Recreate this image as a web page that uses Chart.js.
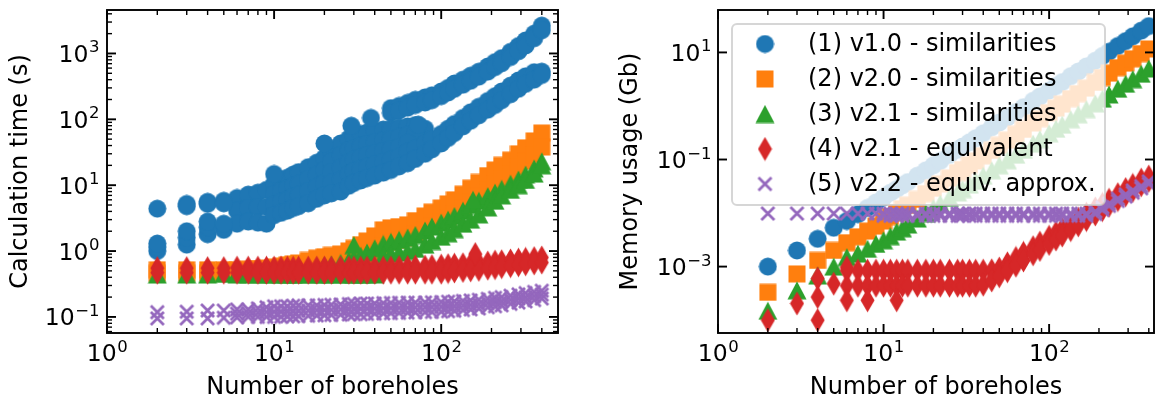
<!DOCTYPE html>
<html>
<head>
<meta charset="utf-8">
<title>Calculation time and memory usage</title>
<script src="https://cdn.jsdelivr.net/npm/chart.js@4.4.1/dist/chart.umd.min.js"></script>
<style>
    html, body { margin: 0; padding: 0; background: #fff; }
    #figure { position: relative; width: 1164px; height: 404px; overflow: hidden; }
    #time_plot { position: absolute; left: 0; top: 0; }
    #memory_plot { position: absolute; left: 580px; top: 0; }
</style>
</head>
<body>
<div id="figure">
    <canvas id="time_plot" width="580" height="404"></canvas>
    <canvas id="memory_plot" width="584" height="404"></canvas>
</div>
<script>
'use strict';

const _ = null;

const nBoreholes = [
    2, 3, 4, 5, 6, 7, 8, 9, 10, 11, 12,
    13, 14, 16, 18, 20, 22, 25, 28, 30, 33, 36,
    40, 45, 50, 56, 63, 70, 80, 88, 100, 110, 120,
    135, 150, 168, 190, 210, 230, 260, 290, 320, 360, 400
];

// ---- Calculation time (s) ----
// (1) v1.0 - similarities : several rows, the cloud spans a wide range
const timeV10Top = [
    4.4, 5.2, 5.6, 5.8, 6.4, 7.2, 7.7, 8.5, 10.5, 12, 13,
    14.5, 15.8, 18.8, 22, 26, 33, 43, 51, 55, 60, 63,
    67, 70, 148, 160, 178, 198, 215, 232, 265, 300, 350,
    400, 460, 530, 635, 740, 850, 1060, 1300, 1580, 2000, 2650
];
const timeV10Branch = [
    _, _, _, _, _, _, _, _, _, _, _,
    _, _, _, _, _, _, _, _, _, _, _,
    _, _, 125, 135, 150, 165, 180, 195, 225, 255, 290,
    335, 385, 445, 530, 620, 710, 880, 1080, 1320, 1700, 2250
];
const timeV10CloudA = [
    _, _, _, _, _, _, _, _, 7.3, 8.2, 8.9,
    9.8, 10.6, 12.3, 14.4, 16.8, 22.8, 28.3, 33.8, 36.6, 39.9, 42.2,
    45.2, 48, 72, 75, 78, 82, 72, _, _, _, _,
    _, _, _, _, _, _, _, _, _, _, _
];
const timeV10CloudB = [
    _, _, _, _, 4.1, 4.5, 4.6, 4.7, 5.05, 5.6, 6.0,
    6.7, 7.1, 8.1, 9.5, 10.9, 15.8, 18.5, 22.4, 24.4, 26.6, 28.4,
    30.6, 33, 50, 54, 58, 62, _, _, _, _, _,
    _, _, _, _, _, _, _, _, _, _, _
];
const timeV10CloudC = [
    _, _, _, _, _, _, _, _, _, _, _,
    _, _, _, _, _, 10.9, 12.2, 14.8, 16.2, 17.7, 19,
    20.7, 22.6, 35, 38, 44, _, _, _, _, _, _,
    _, _, _, _, _, _, _, _, _, _, _
];
const timeV10LowHi = [
    _, _, _, _, _, _, _, _, _, _, _,
    _, _, _, _, _, _, _, _, _, _, _,
    _, _, 24.5, 27, 32, 36, 43, 50, 60, 72, 85,
    105, 128, 155, 190, 225, 265, 325, 390, 450, 520, 530
];
const timeV10Low = [
    1.0, 1.25, 1.8, 2.1, 2.6, 2.8, 2.7, 2.6, 3.5, 3.8, 4.1,
    4.5, 4.8, 5.3, 6.2, 7.0, 7.5, 8.0, 9.8, 10.8, 11.8, 12.8,
    14, 15.5, 17, 19.3, 21.5, 25, 30, 35, 43, 52, 62,
    78, 95, 115, 140, 165, 195, 240, 290, 345, 400, 470
];
const timeV10Extra = [
    [2, 1.15], [2, 1.3], [3, 1.6], [3, 2.0], [4, 2.3], [4, 2.8], [5, 2.6],
    [3, 4.8], [4, 5.2], [5, 5.3], [10, 14.8], [20, 43], [29, 80], [38, 105], [73, 83]
];

// (2) v2.0 - similarities
const timeV20Top = [
    0.52, 0.52, 0.52, 0.52, 0.52, 0.53, 0.54, 0.55, 0.57, 0.59, 0.62,
    0.64, 0.66, 0.72, 0.78, 0.82, 0.86, 0.9, 1.0, 1.1, 1.25, 1.42,
    1.7, 2.1, 2.25, 2.35, 2.5, 2.9, 3.4, 3.9, 4.5, 5.2, 6.0,
    7.3, 9.0, 11, 14, 17, 20, 24, 30, 37, 47, 62
];
const timeV20Low = [
    0.46, 0.46, 0.46, 0.46, 0.46, 0.46, 0.46, 0.46, 0.46, 0.46, 0.46,
    0.47, 0.48, 0.5, 0.52, 0.54, 0.56, 0.58, 0.62, 0.66, 0.75, 0.85,
    1.0, 1.2, 1.35, 1.45, 1.6, 1.8, 2.1, 2.4, 2.8, 3.2, 3.7,
    4.5, 5.5, 6.8, 8.5, 10.5, 12.5, 15, 19, 23, 29, 38
];

// (3) v2.1 - similarities
const timeV21Top = [
    0.44, 0.44, 0.44, 0.45, 0.46, 0.47, 0.48, 0.49, 0.5, 0.52, 0.53,
    0.54, 0.55, 0.56, 0.58, 0.6, 0.62, 0.66, 0.72, 0.78, 0.85, 0.95,
    1.1, 1.28, 1.38, 1.48, 1.6, 1.75, 2.05, 2.35, 2.7, 3.0, 3.4,
    4.1, 5.0, 5.8, 6.8, 7.7, 8.8, 10.5, 12.2, 14.5, 18, 23
];
const timeV21Low = [
    _, _, _, _, 0.44, 0.44, 0.44, 0.44, 0.44, 0.44, 0.44,
    0.44, 0.44, 0.44, 0.44, 0.44, 0.44, 0.44, 0.44, 0.44, 0.44, 0.44,
    0.44, 0.85, 0.9, 0.95, 1.0, 1.08, 1.25, 1.42, 1.65, 1.86, 2.15,
    2.6, 3.0, 3.6, 4.6, 5.8, 7.0, 8.5, 10, 12, 15, 20
];
const timeV21Extra = [[30, 1.23], [155, 6.0]];

// (4) v2.1 - equivalent
const timeV21eqTop = [
    0.55, 0.55, 0.55, 0.55, 0.56, 0.56, 0.56, 0.56, 0.56, 0.56, 0.56,
    0.56, 0.56, 0.56, 0.56, 0.56, 0.56, 0.56, 0.56, 0.56, 0.56, 0.56,
    0.56, 0.56, 0.56, 0.57, 0.57, 0.58, 0.58, 0.59, 0.6, 0.61, 0.62,
    0.63, 0.64, 0.66, 0.67, 0.69, 0.7, 0.72, 0.74, 0.76, 0.78, 0.8
];
const timeV21eqLow = [
    0.47, 0.47, 0.47, 0.47, 0.47, 0.47, 0.47, 0.47, 0.47, 0.47, 0.47,
    0.47, 0.47, 0.47, 0.47, 0.47, 0.47, 0.47, 0.47, 0.47, 0.47, 0.47,
    0.47, 0.47, 0.47, 0.47, 0.47, 0.47, 0.47, 0.47, 0.47, 0.48, 0.49,
    0.5, 0.51, 0.52, 0.54, 0.55, 0.57, 0.59, 0.61, 0.63, 0.65, 0.67
];
const timeV21eqExtra = [[160, 0.9]];

// (5) v2.2 - equiv. approx.
const timeV22Top = [
    0.118, 0.12, 0.125, 0.125, 0.13, 0.13, 0.135, 0.14, 0.145, 0.145, 0.145,
    0.148, 0.15, 0.15, 0.15, 0.152, 0.153, 0.155, 0.157, 0.158, 0.16, 0.16,
    0.16, 0.162, 0.163, 0.164, 0.165, 0.165, 0.166, 0.167, 0.168, 0.17, 0.172,
    0.175, 0.178, 0.182, 0.188, 0.195, 0.2, 0.21, 0.22, 0.23, 0.24, 0.25
];
const timeV22Mid = [
    _, _, _, _, 0.112, 0.114, 0.116, 0.118, 0.12, 0.12, 0.121,
    0.122, 0.124, 0.125, 0.126, 0.127, 0.128, 0.13, 0.131, 0.132, 0.133, 0.134,
    0.134, 0.135, 0.136, 0.137, 0.138, 0.139, 0.14, 0.141, 0.142, 0.144, 0.146,
    0.149, 0.152, 0.156, 0.162, 0.168, 0.173, 0.182, 0.19, 0.198, 0.207, 0.218
];
const timeV22Low = [
    0.095, 0.095, 0.095, 0.097, 0.098, 0.1, 0.1, 0.1, 0.1, 0.1, 0.102,
    0.102, 0.103, 0.104, 0.105, 0.106, 0.107, 0.108, 0.109, 0.11, 0.11, 0.111,
    0.112, 0.113, 0.114, 0.115, 0.116, 0.117, 0.118, 0.119, 0.12, 0.122, 0.124,
    0.127, 0.13, 0.134, 0.14, 0.145, 0.15, 0.158, 0.165, 0.172, 0.18, 0.19
];

// ---- Memory usage (Gb) ----
const memV10 = [
    1.0e-3, 2.0e-3, 3.3e-3, 5.3e-3, 7.1e-3, 9.5e-3, 1.25e-2, 1.58e-2, 1.95e-2, 2.4e-2, 2.8e-2,
    3.3e-2, 3.8e-2, 5.0e-2, 6.3e-2, 7.8e-2, 9.4e-2, 0.122, 0.152, 0.175, 0.21, 0.25,
    0.31, 0.4, 0.49, 0.61, 0.77, 0.95, 1.25, 1.5, 1.95, 2.35, 2.8,
    3.6, 4.4, 5.5, 7.0, 8.6, 10.3, 13.2, 16.3, 20, 25.5, 31
];
const memV20 = [
    3.3e-4, 7.3e-4, 1.3e-3, 2.0e-3, 2.8e-3, 3.6e-3, 4.6e-3, 5.7e-3, 7.1e-3, 8.6e-3, 1.02e-2,
    1.2e-2, 1.4e-2, 1.8e-2, 2.3e-2, 2.9e-2, 3.5e-2, 4.5e-2, 5.7e-2, 6.5e-2, 7.9e-2, 9.4e-2,
    0.117, 0.148, 0.184, 0.23, 0.295, 0.365, 0.48, 0.58, 0.75, 0.91, 1.08,
    1.37, 1.7, 2.15, 2.75, 3.4, 4.1, 5.2, 6.3, 7.6, 9.5, 11.6
];
const memV21 = [
    1.5e-4, 3.6e-4, 6.8e-4, 1.0e-3, 1.5e-3, 1.75e-3, 2.15e-3, 2.65e-3, 3.1e-3, 3.7e-3, 4.5e-3,
    5.2e-3, 6.1e-3, 7.9e-3, 1.0e-2, 1.24e-2, 1.5e-2, 1.94e-2, 2.43e-2, 2.8e-2, 3.4e-2, 4.0e-2,
    5.0e-2, 6.3e-2, 7.8e-2, 9.7e-2, 0.123, 0.152, 0.198, 0.24, 0.31, 0.375, 0.447,
    0.565, 0.7, 0.875, 1.12, 1.37, 1.64, 2.1, 2.6, 3.17, 4.0, 5.0
];
const memV21eqTop = [
    _, _, _, _, 8.4e-4, 8.4e-4, 8.4e-4, 8.4e-4, 8.4e-4, 8.4e-4, 8.4e-4,
    8.4e-4, 8.4e-4, 8.4e-4, 8.4e-4, 8.4e-4, 8.4e-4, 8.4e-4, 8.4e-4, 8.4e-4, 8.4e-4, 8.4e-4,
    8.4e-4, 8.5e-4, 9.2e-4, 1.15e-3, 1.45e-3, 1.8e-3, 2.3e-3, 2.8e-3, 3.6e-3, 4.3e-3, 5.1e-3,
    6.4e-3, 7.8e-3, 9.7e-3, 1.22e-2, 1.48e-2, 1.77e-2, 2.25e-2, 2.8e-2, 3.35e-2, 4.2e-2, 4.8e-2
];
const memV21eqLow = [
    _, _, _, _, 4.4e-4, 4.4e-4, 4.4e-4, 4.4e-4, 4.4e-4, 4.4e-4, 4.4e-4,
    4.4e-4, 4.4e-4, 4.4e-4, 4.4e-4, 4.4e-4, 4.4e-4, 4.4e-4, 4.4e-4, 4.4e-4, 4.4e-4, 4.4e-4,
    4.6e-4, 5.5e-4, 6.6e-4, 8.2e-4, 1.04e-3, 1.3e-3, 1.7e-3, 2.05e-3, 2.65e-3, 3.2e-3, 3.8e-3,
    4.8e-3, 5.9e-3, 7.4e-3, 9.4e-3, 1.14e-2, 1.37e-2, 1.75e-2, 2.15e-2, 2.6e-2, 3.3e-2, 4.0e-2
];
const memV21eqExtra = [
    [2, 1.0e-4], [3, 2.05e-4], [4, 6.0e-4], [4, 2.7e-4], [4, 1.0e-4], [5, 4.8e-4],
    [6, 9.6e-4], [6, 2.35e-4], [8, 2.35e-4], [12, 2.35e-4]
];
const memV22 = [
    9.8e-3, 9.8e-3, 9.8e-3, 9.8e-3, 9.8e-3, 9.8e-3, 9.8e-3, 9.8e-3, 9.8e-3, 9.8e-3, 9.8e-3,
    9.8e-3, 9.8e-3, 9.8e-3, 9.8e-3, 9.8e-3, 9.8e-3, 9.8e-3, 9.8e-3, 9.8e-3, 9.8e-3, 9.8e-3,
    9.8e-3, 9.8e-3, 9.8e-3, 9.8e-3, 9.8e-3, 9.8e-3, 9.8e-3, 9.8e-3, 9.8e-3, 9.8e-3, 9.8e-3,
    9.8e-3, 9.8e-3, 9.8e-3, 1.07e-2, 1.28e-2, 1.5e-2, 1.86e-2, 2.24e-2, 2.65e-2, 3.2e-2, 3.9e-2
];
const memV22Low = [
    _, _, _, _, _, _, _, _, 8.9e-3, 8.9e-3, 8.9e-3,
    8.9e-3, 8.9e-3, 8.9e-3, 8.9e-3, 8.9e-3, 8.9e-3, 8.9e-3, 8.9e-3, 8.9e-3, 8.9e-3, 8.9e-3,
    8.9e-3, 8.9e-3, 8.9e-3, 8.9e-3, 8.9e-3, 8.9e-3, 8.9e-3, 8.9e-3, 8.9e-3, 8.9e-3, 8.9e-3,
    8.9e-3, 8.9e-3, 8.9e-3, 9.6e-3, 1.15e-2, 1.36e-2, 1.68e-2, 2.03e-2, 2.4e-2, 2.9e-2, 3.5e-2
];

const seriesLabels = [
    '(1) v1.0 - similarities',
    '(2) v2.0 - similarities',
    '(3) v2.1 - similarities',
    '(4) v2.1 - equivalent',
    '(5) v2.2 - equiv. approx.'
];
const seriesColors = ['#1f77b4', '#ff7f0e', '#2ca02c', '#d62728', '#9467bd'];
const seriesMarkers = ['circle', 'square', 'triangle', 'diamond', 'cross'];

const xTicks = [1, 10, 100];
const timeTicks = [0.1, 1, 10, 100, 1000];
const memoryTicks = [0.001, 0.1, 10];

const FONT = { family: '"DejaVu Sans", sans-serif', size: 24 };
const TICK_FONT = '23.5px "DejaVu Sans", sans-serif';
const EXP_FONT = '16.5px "DejaVu Sans", sans-serif';

/**
 * Turn value rows (aligned with nBoreholes) and [n, value] pairs into scatter points.
 */
function toPoints(rows, extra) {
    const points = [];
    rows.forEach(row => row.forEach((v, i) => {
        if (v !== null) points.push({ x: nBoreholes[i], y: v });
    }));
    (extra || []).forEach(p => points.push({ x: p[0], y: p[1] }));
    return points;
}

/**
 * Small canvas used as point style, shaped like the matplotlib markers.
 */
function makeMarker(shape, color) {
    const c = document.createElement('canvas');
    let ctx;
    switch (shape) {
        case 'circle':
            c.width = 19; c.height = 19;
            ctx = c.getContext('2d');
            ctx.fillStyle = color;
            ctx.beginPath();
            ctx.arc(9.5, 9.5, 9, 0, 2 * Math.PI);
            ctx.fill();
            break;
        case 'square':
            c.width = 18; c.height = 18;
            ctx = c.getContext('2d');
            ctx.fillStyle = color;
            ctx.fillRect(0.5, 0.5, 17, 17);
            break;
        case 'triangle':
            c.width = 20; c.height = 19;
            ctx = c.getContext('2d');
            ctx.fillStyle = color;
            ctx.beginPath();
            ctx.moveTo(10, 0.5);
            ctx.lineTo(19.5, 18.5);
            ctx.lineTo(0.5, 18.5);
            ctx.closePath();
            ctx.fill();
            break;
        case 'diamond':
            c.width = 15; c.height = 25;
            ctx = c.getContext('2d');
            ctx.fillStyle = color;
            ctx.beginPath();
            ctx.moveTo(7.5, 0.5);
            ctx.lineTo(14.5, 12.5);
            ctx.lineTo(7.5, 24.5);
            ctx.lineTo(0.5, 12.5);
            ctx.closePath();
            ctx.fill();
            break;
        default:
            c.width = 17; c.height = 17;
            ctx = c.getContext('2d');
            ctx.strokeStyle = color;
            ctx.lineWidth = 2.8;
            ctx.beginPath();
            ctx.moveTo(2, 2); ctx.lineTo(15, 15);
            ctx.moveTo(15, 2); ctx.lineTo(2, 15);
            ctx.stroke();
    }
    return c;
}

const markers = seriesMarkers.map((m, i) => makeMarker(m, seriesColors[i]));

function buildDatasets(pointSets) {
    // later series sit on top, as in the original plot
    return pointSets.map((points, i) => ({
        label: seriesLabels[i],
        data: points,
        pointStyle: markers[i],
        pointRadius: 9,
        pointHoverRadius: 9,
        order: pointSets.length - i
    }));
}

function logAxis(min, max, title, isX, size, titlePad) {
    return {
        type: 'logarithmic',
        min: min,
        max: max,
        afterFit: scale => {
            if (isX) scale.height = size; else scale.width = size;
        },
        grid: { display: false, drawTicks: false },
        border: { display: false },
        ticks: { display: false },
        title: {
            display: true,
            text: title,
            font: FONT,
            color: '#000',
            padding: isX ? { top: 0, bottom: titlePad } : { top: titlePad, bottom: 0 }
        }
    };
}

/**
 * Draw "10" with a raised exponent, like matplotlib mathtext.
 */
function drawPowerLabel(ctx, value, x, baseline, align) {
    const exp = String(Math.round(Math.log10(value))).replace('-', '\u2212');
    ctx.font = TICK_FONT;
    const w1 = ctx.measureText('10').width;
    ctx.font = EXP_FONT;
    const w2 = ctx.measureText(exp).width;
    const x0 = align === 'right' ? x - w1 - w2 : x - (w1 + w2) / 2;
    ctx.font = TICK_FONT;
    ctx.fillText('10', x0, baseline);
    ctx.font = EXP_FONT;
    ctx.fillText(exp, x0 + w1 + 0.5, baseline - 9.5);
}

/**
 * Spines, inward pointing ticks on all four sides and tick labels.
 */
const frameAndTicks = {
    id: 'frameAndTicks',
    afterDatasetsDraw(chart, args, opts) {
        const { ctx, chartArea: a, scales: { x, y } } = chart;
        ctx.save();
        ctx.strokeStyle = '#000';

        const line = (x1, y1, x2, y2, w) => {
            ctx.lineWidth = w;
            ctx.beginPath();
            ctx.moveTo(x1, y1);
            ctx.lineTo(x2, y2);
            ctx.stroke();
        };
        const minors = (scale) => {
            const out = [];
            for (let d = Math.pow(10, Math.floor(Math.log10(scale.min))); d < scale.max; d *= 10) {
                for (let k = 2; k < 10; k++) {
                    const v = k * d;
                    if (v > scale.min && v < scale.max) out.push(v);
                }
            }
            return out;
        };
        const xDraw = (v, len, w) => {
            const px = x.getPixelForValue(v);
            line(px, a.bottom, px, a.bottom - len, w);
            line(px, a.top, px, a.top + len, w);
        };
        const yDraw = (v, len, w) => {
            const py = y.getPixelForValue(v);
            line(a.left, py, a.left + len, py, w);
            line(a.right, py, a.right - len, py, w);
        };

        minors(x).forEach(v => xDraw(v, 5, 1.4));
        xTicks.forEach(v => xDraw(v, 9, 1.9));
        if (opts.yMinor) minors(y).forEach(v => yDraw(v, 5, 1.4));
        opts.yMajor.forEach(v => yDraw(v, 9, 1.9));

        ctx.lineWidth = 1.9;
        ctx.strokeRect(a.left, a.top, a.right - a.left, a.bottom - a.top);

        ctx.fillStyle = '#000';
        ctx.textBaseline = 'alphabetic';
        ctx.textAlign = 'left';
        xTicks.forEach(v => drawPowerLabel(ctx, v, x.getPixelForValue(v), a.bottom + 28, 'center'));
        opts.yMajor.forEach(v => drawPowerLabel(ctx, v, a.left - opts.labelGap, y.getPixelForValue(v) + 8.5, 'right'));
        ctx.restore();
    }
};

/**
 * Semi transparent legend box in the upper left of the memory plot.
 */
const memoryLegend = {
    id: 'memoryLegend',
    afterDraw(chart) {
        const { ctx, chartArea: a } = chart;
        const bx = a.left + 14, by = a.top + 14, bw = 373, bh = 181;
        ctx.save();
        ctx.beginPath();
        if (ctx.roundRect) ctx.roundRect(bx, by, bw, bh, 5); else ctx.rect(bx, by, bw, bh);
        ctx.fillStyle = 'rgba(255,255,255,0.8)';
        ctx.fill();
        ctx.lineWidth = 2;
        ctx.strokeStyle = 'rgba(204,204,204,0.8)';
        ctx.stroke();

        ctx.font = FONT.size + 'px ' + FONT.family;
        ctx.fillStyle = '#000';
        ctx.textBaseline = 'middle';
        ctx.textAlign = 'left';
        chart.data.datasets.forEach((ds, i) => {
            const cy = by + 20 + i * 35;
            const img = ds.pointStyle;
            ctx.drawImage(img, bx + 33 - img.width / 2, cy - img.height / 2);
            ctx.fillText(ds.label, bx + 76, cy + 1);
        });
        ctx.restore();
    }
};

function baseOptions(padding, xAxis, yAxis, plugins) {
    return {
        responsive: false,
        animation: false,
        events: [],
        layout: { padding: padding },
        plugins: Object.assign({ legend: { display: false }, tooltip: { enabled: false } }, plugins),
        scales: { x: xAxis, y: yAxis }
    };
}

const timePoints = [
    toPoints([timeV10Top, timeV10Branch, timeV10CloudA, timeV10CloudB, timeV10CloudC, timeV10LowHi, timeV10Low], timeV10Extra),
    toPoints([timeV20Top, timeV20Low]),
    toPoints([timeV21Top, timeV21Low], timeV21Extra),
    toPoints([timeV21eqTop, timeV21eqLow], timeV21eqExtra),
    toPoints([timeV22Top, timeV22Mid, timeV22Low])
];

const memoryPoints = [
    toPoints([memV10]),
    toPoints([memV20]),
    toPoints([memV21]),
    toPoints([memV21eqTop, memV21eqLow], memV21eqExtra),
    toPoints([memV22, memV22Low])
];

new Chart(document.getElementById('time_plot'), {
    type: 'scatter',
    data: { datasets: buildDatasets(timePoints) },
    options: baseOptions(
        { left: 0, right: 22, top: 6, bottom: 0 },
        logAxis(1, 500, 'Number of boreholes', true, 71, 2),
        logAxis(0.057, 4570, 'Calculation time (s)', false, 107, 6),
        { frameAndTicks: { yMinor: true, yMajor: timeTicks, labelGap: 8 } }
    ),
    plugins: [frameAndTicks]
});

new Chart(document.getElementById('memory_plot'), {
    type: 'scatter',
    data: { datasets: buildDatasets(memoryPoints) },
    options: baseOptions(
        { left: 0, right: 4, top: 7, bottom: 0 },
        logAxis(1, 430, 'Number of boreholes', true, 71, 2),
        logAxis(5.75e-5, 62, 'Memory usage (Gb)', false, 138, 36),
        { frameAndTicks: { yMinor: false, yMajor: memoryTicks, labelGap: 7 } }
    ),
    plugins: [frameAndTicks, memoryLegend]
});
</script>
</body>
</html>
